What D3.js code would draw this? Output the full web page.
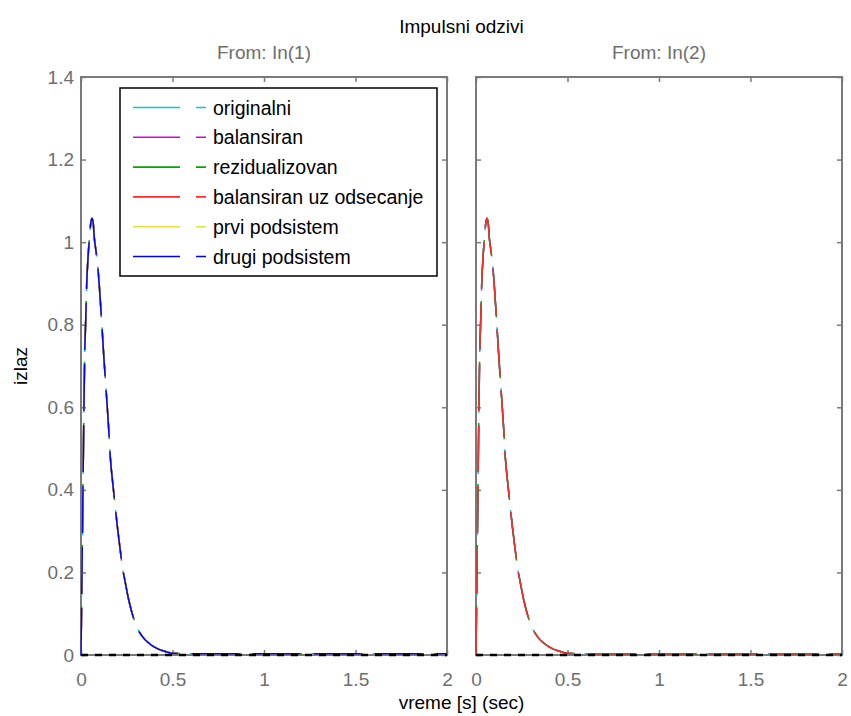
<!DOCTYPE html>
<html>
<head>
<meta charset="utf-8">
<script src="https://cdn.jsdelivr.net/npm/d3@7"></script>
<style>
  body { margin: 0; background: #fff; }
  text { font-family: "Liberation Sans", Arial, sans-serif; }
</style>
</head>
<body>
<div id="chart"></div>
<script>
/* CONSTANTS AND GLOBALS */
const width = 851,
  height = 716,
  margin = { top: 77, bottom: 61, left: 81, right: 9 },
  panelGap = 29,
  axisColor = "#7a7a7a";

/* DATA */
const panelTitles = ["From: In(1)", "From: In(2)"];
const xTicks = [0, 0.5, 1, 1.5, 2];
const yTicks = [0, 0.2, 0.4, 0.6, 0.8, 1, 1.2, 1.4];

// time samples [s]
const time = [0, 0.004, 0.008, 0.012, 0.016, 0.02, 0.026, 0.031, 0.038, 0.046, 0.053, 0.06,
  0.067, 0.073, 0.08, 0.088, 0.095, 0.1, 0.113, 0.125, 0.139, 0.15, 0.16, 0.175,
  0.186, 0.2, 0.215, 0.226, 0.24, 0.26, 0.28, 0.305, 0.34, 0.37, 0.395, 0.42,
  0.45, 0.47, 0.5, 0.6, 0.8, 1.0, 1.2, 1.4, 1.6, 1.8, 2.0];

// impulse response, input 1
const izlazIn1 = [0, 0.15, 0.30, 0.45, 0.60, 0.72, 0.815, 0.896, 0.96, 1.009, 1.045, 1.058,
  1.045, 1.009, 0.985, 0.957, 0.924, 0.895, 0.807, 0.72, 0.63, 0.557, 0.48, 0.41,
  0.363, 0.306, 0.252, 0.214, 0.18, 0.135, 0.10, 0.068, 0.042, 0.029, 0.021, 0.015,
  0.010, 0.007, 0.004, 0.003, 0.003, 0.003, 0.003, 0.003, 0.003, 0.003, 0.003];

// impulse response, input 2
const izlazIn2 = [0, 0.15, 0.30, 0.45, 0.60, 0.72, 0.815, 0.896, 0.96, 1.009, 1.045, 1.058,
  1.045, 1.009, 0.985, 0.957, 0.924, 0.895, 0.807, 0.72, 0.63, 0.557, 0.48, 0.41,
  0.363, 0.306, 0.252, 0.214, 0.18, 0.135, 0.10, 0.068, 0.042, 0.029, 0.021, 0.015,
  0.010, 0.007, 0.004, 0.003, 0.003, 0.003, 0.003, 0.003, 0.003, 0.003, 0.003];

const seriesNames = ["originalni", "balansiran", "rezidualizovan",
  "balansiran uz odsecanje", "prvi podsistem", "drugi podsistem"];
const seriesColors = ["#00cccc", "#dd00dd", "#00a800", "#ff2a2a", "#e0e040", "#0000ff"];
const dashOffsets = [2, 0, -2, 0, 0, 0];
// which series show up in each panel (drawing order = legend order)
const panelSeries = [[0, 1, 2, 3, 4, 5], [0, 1, 2, 3]];

/* SCALES */
const panelWidth = (width - margin.left - margin.right - panelGap) / 2;
const yScale = d3.scaleLinear()
  .domain([0, 1.4])
  .range([height - margin.bottom, margin.top]);

const svg = d3.select("#chart")
  .append("svg")
  .attr("width", width)
  .attr("height", height);

// main title + axis labels
svg.append("text")
  .attr("x", margin.left + (width - margin.left - margin.right) / 2)
  .attr("y", 33)
  .attr("text-anchor", "middle")
  .attr("font-size", 19)
  .attr("fill", "#000")
  .text("Impulsni odzivi");

svg.append("text")
  .attr("x", margin.left + (width - margin.left - margin.right) / 2)
  .attr("y", 709)
  .attr("text-anchor", "middle")
  .attr("font-size", 19)
  .attr("fill", "#000")
  .text("vreme [s] (sec)");

svg.append("text")
  .attr("transform", `translate(27, ${(margin.top + height - margin.bottom) / 2}) rotate(-90)`)
  .attr("text-anchor", "middle")
  .attr("font-size", 19)
  .attr("fill", "#000")
  .text("izlaz");

const responses = [izlazIn1, izlazIn2];

panelTitles.forEach((title, p) => {
  const x0 = margin.left + p * (panelWidth + panelGap);
  const xScale = d3.scaleLinear()
    .domain([0, 2])
    .range([x0, x0 + panelWidth]);

  const g = svg.append("g");

  g.append("text")
    .attr("x", x0 + panelWidth / 2)
    .attr("y", 59)
    .attr("text-anchor", "middle")
    .attr("font-size", 19)
    .attr("fill", "#6e6e6e")
    .text(title);

  // box
  g.append("rect")
    .attr("x", x0)
    .attr("y", margin.top)
    .attr("width", panelWidth)
    .attr("height", height - margin.bottom - margin.top)
    .attr("fill", "none")
    .attr("stroke", axisColor)
    .attr("stroke-width", 2);

  // axes, ticks pointing inward
  const styleAxis = sel => {
    sel.select(".domain").remove();
    sel.selectAll(".tick line").attr("stroke", axisColor).attr("stroke-width", 1.5);
    sel.selectAll(".tick text")
      .attr("fill", "#6e6e6e")
      .attr("font-size", 19)
      .attr("font-family", "Liberation Sans, Arial, sans-serif");
  };

  g.append("g")
    .attr("transform", `translate(0, ${height - margin.bottom})`)
    .call(d3.axisBottom(xScale).tickValues(xTicks).tickFormat(d3.format("")).tickSizeInner(-5).tickSizeOuter(0).tickPadding(18))
    .call(styleAxis);

  g.append("g")
    .attr("transform", `translate(0, ${margin.top})`)
    .call(d3.axisTop(xScale).tickValues(xTicks).tickFormat("").tickSizeInner(-5).tickSizeOuter(0))
    .call(styleAxis);

  const yAxis = g.append("g")
    .attr("transform", `translate(${x0}, 0)`)
    .call(d3.axisLeft(yScale).tickValues(yTicks).tickFormat(d3.format("")).tickSizeInner(-5).tickSizeOuter(0).tickPadding(7))
    .call(styleAxis);
  if (p > 0) yAxis.selectAll(".tick text").remove();

  g.append("g")
    .attr("transform", `translate(${x0 + panelWidth}, 0)`)
    .call(d3.axisRight(yScale).tickValues(yTicks).tickFormat("").tickSizeInner(-5).tickSizeOuter(0))
    .call(styleAxis);

  // response lines
  const line = d3.line()
    .x(d => xScale(d[0]))
    .y(d => yScale(d[1]))
    .curve(d3.curveMonotoneX);

  const pts = d3.zip(time, responses[p]);

  g.selectAll("path.resp")
    .data(panelSeries[p])
    .join("path")
    .attr("class", "resp")
    .attr("fill", "none")
    .attr("stroke", i => seriesColors[i])
    .attr("stroke-width", 1.5)
    .attr("stroke-dasharray", "47,14")
    .attr("stroke-dashoffset", i => dashOffsets[i])
    .attr("d", () => line(pts));

  // zero reference line
  g.append("path")
    .attr("fill", "none")
    .attr("stroke", "#000")
    .attr("stroke-width", 2.5)
    .attr("stroke-dasharray", "7,7")
    .attr("d", d3.line()([[xScale(0), yScale(0)], [xScale(2), yScale(0)]]));
});

/* LEGEND */
const legend = svg.append("g");
legend.append("rect")
  .attr("x", 120)
  .attr("y", 88)
  .attr("width", 317)
  .attr("height", 188)
  .attr("fill", "#fff")
  .attr("stroke", "#000")
  .attr("stroke-width", 1.5);

const item = legend.selectAll("g.item")
  .data(seriesNames)
  .join("g")
  .attr("class", "item")
  .attr("transform", (d, i) => `translate(0, ${107.5 + i * 29.8})`);

item.append("line")
  .attr("x1", 133)
  .attr("x2", 206)
  .attr("stroke", (d, i) => seriesColors[i])
  .attr("stroke-width", 1.6)
  .attr("stroke-dasharray", "47,16");

item.append("text")
  .attr("x", 213)
  .attr("y", 7)
  .attr("font-size", 19.5)
  .attr("fill", "#000")
  .text(d => d);
</script>
</body>
</html>
